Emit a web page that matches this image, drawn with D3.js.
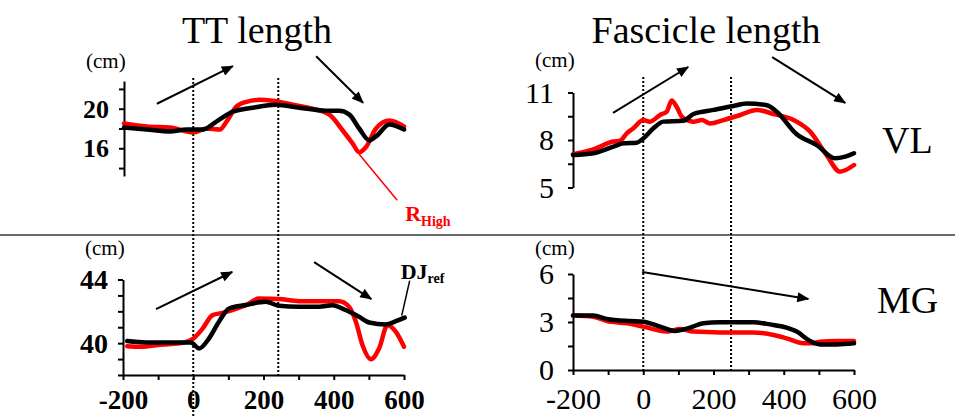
<!DOCTYPE html>
<html>
<head>
<meta charset="utf-8">
<script src="https://cdn.jsdelivr.net/npm/d3@7"></script>
<style>
  html, body { margin: 0; padding: 0; background: #fff; }
  svg { display: block; }
  svg text { font-family: "Liberation Serif", "Times New Roman", serif; }
</style>
</head>
<body>
<svg id="chart" width="955" height="417"></svg>
<script>
// ---- time axis (ms, relative to onset) ----
const timeDomain = [-200, 600];
const xTicks = [-200, -100, 0, 100, 200, 300, 400, 500, 600];
const xTickLabels = [-200, 0, 200, 400, 600];

// phase markers (ms)
const ttMarkers = [0, 242];
const fascMarkers = [0, 250];

// ---- tendinous tissue length, VL (cm) : [time, length] ----
const ttVLRef = [
  [-200, 18.1], [-135, 17.9], [-69, 17.7], [-21, 17.9], [26, 17.9], [64, 18.7],
  [111, 19.7], [168, 20.1], [235, 20.4], [301, 20.1], [377, 19.8], [415, 19.8],
  [444, 19.4], [472, 18.0], [501, 16.8], [520, 17.2], [558, 18.4], [600, 17.9]
];
const ttVLHigh = [
  [-200, 18.5], [-135, 18.2], [-69, 18.1], [-2, 17.6], [36, 18.0], [74, 17.9],
  [93, 18.7], [121, 20.2], [150, 20.7], [187, 20.9], [225, 20.8], [282, 20.4],
  [339, 20.0], [387, 19.4], [425, 17.8], [453, 16.5], [472, 15.6], [491, 16.1],
  [520, 18.0], [558, 18.8], [600, 18.2]
];

// ---- fascicle length, VL (cm) ----
const fascVLRef = [
  [-200, 7.05], [-142, 7.16], [-85, 7.58], [-56, 7.79], [-19, 7.83], [0, 8.1],
  [29, 8.74], [57, 9.16], [114, 9.22], [143, 9.64], [200, 9.9], [257, 10.15],
  [295, 10.3], [352, 10.2], [380, 9.79], [437, 8.36], [494, 7.68], [546, 6.84],
  [575, 6.95], [600, 7.16]
];
const fascVLHigh = [
  [-200, 7.1], [-142, 7.41], [-85, 7.9], [-66, 7.95], [-47, 8.42], [-28, 8.74],
  [0, 9.26], [19, 9.16], [48, 9.58], [67, 9.79], [81, 10.5], [95, 10.1],
  [110, 9.47], [143, 9.16], [167, 9.26], [190, 9.05], [228, 9.26], [276, 9.58],
  [323, 9.9], [371, 9.64], [428, 9.26], [475, 8.53], [522, 7.05], [560, 6.0],
  [600, 6.42]
];

// ---- tendinous tissue length, MG (cm) ----
const ttMGRef = [
  [-188, 40.13], [-135, 40.04], [-69, 40.04], [-7, 40.04], [17, 39.67], [45, 40.3],
  [74, 41.38], [102, 42.18], [150, 42.4], [206, 42.6], [244, 42.35], [301, 42.29],
  [358, 42.29], [396, 42.39], [434, 42.08], [472, 41.66], [501, 41.3], [548, 41.18],
  [577, 41.38], [602, 41.6]
];
const ttMGHigh = [
  [-188, 39.81], [-150, 39.77], [-93, 39.9], [-26, 40.04], [-2, 40.25], [26, 40.9],
  [55, 41.76], [83, 41.9], [111, 42.08], [150, 42.39], [187, 42.8], [244, 42.77],
  [301, 42.64], [358, 42.64], [415, 42.64], [444, 42.28], [463, 41.34], [482, 39.87],
  [506, 38.99], [529, 39.66], [553, 41.13], [577, 40.71], [600, 39.77]
];

// ---- fascicle length, MG (cm) ----
const fascMGRef = [
  [-200, 3.4], [-142, 3.4], [-104, 3.19], [-38, 3.06], [0, 3.02], [48, 2.71],
  [90, 2.44], [133, 2.65], [171, 2.92], [218, 2.98], [313, 2.98], [361, 2.85],
  [408, 2.65], [437, 2.4], [475, 1.81], [503, 1.6], [551, 1.6], [600, 1.67]
];
const fascMGHigh = [
  [-200, 3.4], [-142, 3.33], [-104, 3.06], [-47, 2.92], [0, 2.71], [67, 2.4],
  [105, 2.56], [143, 2.4], [218, 2.35], [313, 2.35], [371, 2.19], [408, 1.98],
  [456, 1.67], [484, 1.67], [503, 1.77], [551, 1.81], [600, 1.81]
];

// ---- y-axis ticks / labels ----
const ttVLTicks = [14, 16, 18, 20, 22];
const ttVLLabels = [16, 20];
const fascVLTicks = [5, 6.5, 8, 9.5, 11];
const fascVLLabels = [5, 8, 11];
const ttMGTicks = [38, 39, 40, 41, 42, 43, 44];
const ttMGLabels = [40, 44];
const fascMGTicks = [0, 1.5, 3, 4.5, 6];
const fascMGLabels = [0, 3, 6];

// ---- trend arrows, in data units: [t0, v0, t1, v1] ----
const ttVLArrows = [[-106, 20.5, 111, 24.3], [349, 25.3, 483, 20.6]];
const fascVLArrows = [[-86, 9.71, 128, 12.61], [367, 13.24, 575, 10.34]];
const ttMGArrows = [[-106, 42.14, 111, 44.47], [344, 45.09, 507, 42.77]];
const fascMGArrows = [[-3, 6.125, 470, 4.44]];

const colRef = "#000000";
const colHigh = "#ff0000";
const serif = '"Liberation Serif", "Times New Roman", serif';

const svg = d3.select("#chart");

// arrowhead
svg.append("defs").append("marker")
  .attr("id", "head")
  .attr("viewBox", "0 0 12 10")
  .attr("refX", 11).attr("refY", 5)
  .attr("markerWidth", 13).attr("markerHeight", 10)
  .attr("markerUnits", "userSpaceOnUse")
  .attr("orient", "auto")
  .append("path").attr("d", "M0,0 L12,5 L0,10 Z").attr("fill", "#000");

const panels = [
  { name: "ttVL", xr: [124, 404], yr: [176, 81], domain: [13.2, 22.8],
    ticks: ttVLTicks, labels: ttVLLabels, ref: ttVLRef, high: ttVLHigh,
    arrows: ttVLArrows, xAxis: false, bold: true, labelSize: 26, pad: 10 },
  { name: "fascVL", xr: [573, 854], yr: [187.5, 92.5], domain: [5, 11],
    ticks: fascVLTicks, labels: fascVLLabels, ref: fascVLRef, high: fascVLHigh,
    arrows: fascVLArrows, xAxis: false, bold: false, labelSize: 30, pad: 14 },
  { name: "ttMG", xr: [123, 404], yr: [375, 279.5], domain: [38, 44],
    ticks: ttMGTicks, labels: ttMGLabels, ref: ttMGRef, high: ttMGHigh,
    arrows: ttMGArrows, xAxis: true, bold: true, labelSize: 28, pad: 10 },
  { name: "fascMG", xr: [573, 854], yr: [370, 274], domain: [0, 6],
    ticks: fascMGTicks, labels: fascMGLabels, ref: fascMGRef, high: fascMGHigh,
    arrows: fascMGArrows, xAxis: true, bold: false, labelSize: 30, pad: 14 }
];

panels.forEach(p => {
  p.x = d3.scaleLinear().domain(timeDomain).range(p.xr);
  p.y = d3.scaleLinear().domain(p.domain).range(p.yr);
});

// separator between VL and MG rows
svg.append("line")
  .attr("x1", 0).attr("x2", 955).attr("y1", 235).attr("y2", 235)
  .attr("stroke", "#3a3a3a").attr("stroke-width", 1.6);

// phase markers spanning both rows of a column
function drawMarkers(xScale, values, y0, y1s) {
  svg.append("g").selectAll("line").data(values).join("line")
    .attr("x1", d => xScale(d)).attr("x2", d => xScale(d))
    .attr("y1", y0).attr("y2", (d, i) => y1s[i])
    .attr("stroke", "#000").attr("stroke-width", 2)
    .attr("stroke-dasharray", "2,2");
}
drawMarkers(panels[2].x, ttMarkers, 78, [417, 377]);
drawMarkers(panels[3].x, fascMarkers, 77, [372, 372]);

panels.forEach(p => {
  const g = svg.append("g").attr("class", p.name);

  // y axis
  const yAxis = d3.axisLeft(p.y)
    .tickValues(p.ticks)
    .tickSize(5).tickSizeOuter(0).tickPadding(p.pad)
    .tickFormat(d => p.labels.includes(d) ? d3.format("d")(d) : "");
  const ya = g.append("g").attr("transform", `translate(${p.xr[0]},0)`).call(yAxis);
  ya.attr("font-family", null).attr("font-size", null);
  ya.select(".domain").attr("stroke-width", 2);
  ya.selectAll(".tick line").attr("stroke-width", 2);
  ya.selectAll("text")
    .style("font-family", serif)
    .style("font-size", p.labelSize + "px")
    .style("font-weight", p.bold ? "bold" : "normal")
    .attr("fill", "#000");

  // x axis (bottom row only)
  if (p.xAxis) {
    const xAxis = d3.axisBottom(p.x)
      .tickValues(xTicks)
      .tickSize(5).tickSizeOuter(0).tickPadding(p.bold ? 10 : 13)
      .tickFormat(d => xTickLabels.includes(d) ? d : "");
    const xa = g.append("g").attr("transform", `translate(0,${p.yr[0]})`).call(xAxis);
    xa.attr("font-family", null).attr("font-size", null);
    xa.select(".domain").attr("stroke-width", 2);
    xa.selectAll(".tick line").attr("stroke-width", 2);
    xa.selectAll("text")
      .style("font-family", serif)
      .style("font-size", (p.bold ? 27 : 30) + "px")
      .style("font-weight", p.bold ? "bold" : "normal")
      .attr("fill", "#000");
  }

  // series
  const line = d3.line()
    .x(d => p.x(d[0])).y(d => p.y(d[1]))
    .curve(d3.curveMonotoneX);
  g.append("path").datum(p.high)
    .attr("d", line).attr("fill", "none")
    .attr("stroke", colHigh).attr("stroke-width", 4.5)
    .attr("stroke-linejoin", "round").attr("stroke-linecap", "round");
  g.append("path").datum(p.ref)
    .attr("d", line).attr("fill", "none")
    .attr("stroke", colRef).attr("stroke-width", 4.5)
    .attr("stroke-linejoin", "round").attr("stroke-linecap", "round");

  // trend arrows
  g.append("g").selectAll("line").data(p.arrows).join("line")
    .attr("x1", d => p.x(d[0])).attr("y1", d => p.y(d[1]))
    .attr("x2", d => p.x(d[2])).attr("y2", d => p.y(d[3]))
    .attr("stroke", "#000").attr("stroke-width", 2)
    .attr("marker-end", "url(#head)");

  // unit label
  g.append("text")
    .attr("x", p.xr[0] - 38).attr("y", p.name === "ttVL" ? 68 : (p.name === "fascVL" ? 67 : 255))
    .style("font-size", "21px").attr("fill", "#000")
    .text("(cm)");
});

// column titles and row labels
svg.append("text").attr("x", 257).attr("y", 43).attr("text-anchor", "middle")
  .style("font-size", "38px").text("TT length");
svg.append("text").attr("x", 706).attr("y", 43).attr("text-anchor", "middle")
  .style("font-size", "38px").text("Fascicle length");
svg.append("text").attr("x", 882).attr("y", 153).style("font-size", "38px").text("VL");
svg.append("text").attr("x", 877).attr("y", 313).style("font-size", "38px").text("MG");

// condition labels with leader lines
const pVL = panels[0], pMG = panels[2];
const highPt = ttVLHigh.reduce((a, b) => (b[1] < a[1] ? b : a));
const hx = pVL.x(highPt[0]), hy = pVL.y(highPt[1]);
svg.append("line").attr("x1", hx).attr("y1", hy + 2).attr("x2", hx + 38).attr("y2", hy + 48)
  .attr("stroke", colHigh).attr("stroke-width", 1.5);
const rLab = svg.append("text").attr("x", hx + 46).attr("y", hy + 69)
  .attr("fill", colHigh).style("font-weight", "bold");
rLab.append("tspan").style("font-size", "22px").text("R");
rLab.append("tspan").style("font-size", "14px").attr("dy", 5).text("High");

const refEnd = ttMGRef[ttMGRef.length - 1];
const dx = pMG.x(refEnd[0]) - 3, dy = pMG.y(refEnd[1]);
svg.append("line").attr("x1", dx).attr("y1", dy - 2).attr("x2", dx + 8).attr("y2", dy - 37)
  .attr("stroke", "#000").attr("stroke-width", 1.5);
const dLab = svg.append("text").attr("x", dx - 1).attr("y", dy - 39)
  .attr("fill", "#000").style("font-weight", "bold");
dLab.append("tspan").style("font-size", "22px").text("DJ");
dLab.append("tspan").style("font-size", "14px").attr("dy", 4).text("ref");
</script>
</body>
</html>
